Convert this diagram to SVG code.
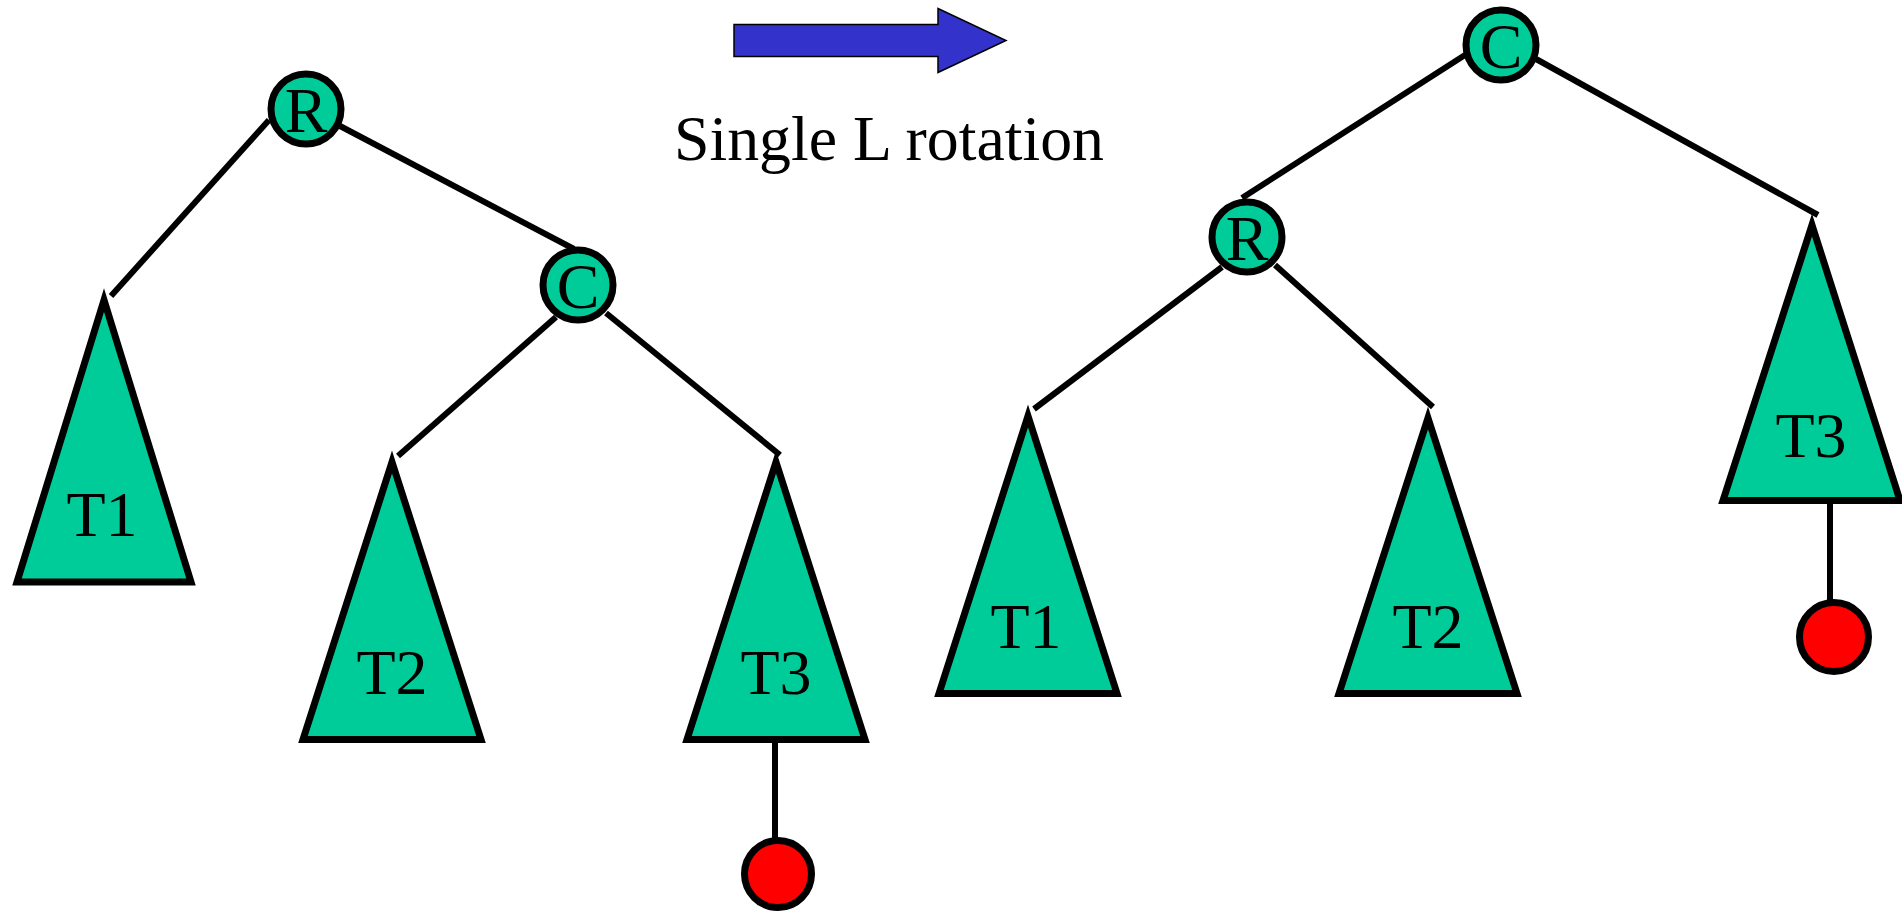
<svg xmlns="http://www.w3.org/2000/svg" width="1902" height="917" viewBox="0 0 1902 917">
<style>
.node{fill:#00CC99;stroke:#000;stroke-width:7}
.tree{fill:#00CC99;stroke:#000;stroke-width:7;stroke-linejoin:miter}
.new{fill:#FF0000;stroke:#000;stroke-width:7}
.edge{stroke:#000;stroke-width:6;fill:none}
.lbl{font-family:"Liberation Serif","Times New Roman",serif;font-size:64px;fill:#000;text-anchor:middle}
.cap{font-family:"Liberation Serif","Times New Roman",serif;font-size:64px;fill:#000}
</style>
<rect width="1902" height="917" fill="#fff"/>
<g id="connectors">
<line class="edge" x1="269" y1="120" x2="111" y2="296"/>
<line class="edge" x1="340" y1="126" x2="574" y2="249"/>
<line class="edge" x1="556" y1="317" x2="398" y2="456"/>
<line class="edge" x1="606" y1="313" x2="780" y2="455"/>
<line class="edge" x1="775" y1="743" x2="775" y2="840"/>
<line class="edge" x1="1465" y1="55" x2="1242" y2="198"/>
<line class="edge" x1="1536" y1="59" x2="1818" y2="215"/>
<line class="edge" x1="1222" y1="267" x2="1034" y2="409"/>
<line class="edge" x1="1275" y1="265" x2="1433" y2="407"/>
<line class="edge" x1="1830" y1="504" x2="1830" y2="600"/>
</g>
<g id="arrow">
<polygon points="734,24.5 938,24.5 938,8.5 1006,40.5 938,72.5 938,56.5 734,56.5" fill="#3333CC" stroke="#000" stroke-width="1.5"/>
</g>
<g id="caption">
<text class="cap" x="674" y="160" textLength="430" lengthAdjust="spacingAndGlyphs">Single L rotation</text>
</g>
<g id="L-R"><circle class="node" cx="306" cy="109" r="35"/><text class="lbl" x="306" y="132">R</text></g>
<g id="L-C"><circle class="node" cx="578" cy="285" r="35"/><text class="lbl" x="578" y="308">C</text></g>
<g id="L-T1"><polygon class="tree" points="104,300 191,582 17,582"/><text class="lbl" x="102" y="536">T1</text></g>
<g id="L-T2"><polygon class="tree" points="392,462 481,739.5 303,739.5"/><text class="lbl" x="392" y="694">T2</text></g>
<g id="L-T3"><polygon class="tree" points="776,462 865,739.5 687,739.5"/><text class="lbl" x="776" y="694">T3</text></g>
<g id="L-new"><circle class="new" cx="778" cy="874" r="33.5"/></g>
<g id="R-C"><circle class="node" cx="1501" cy="45" r="35"/><text class="lbl" x="1501" y="68">C</text></g>
<g id="R-R"><circle class="node" cx="1247" cy="237" r="35"/><text class="lbl" x="1247" y="260">R</text></g>
<g id="R-T1"><polygon class="tree" points="1028,416 1117,693.5 939,693.5"/><text class="lbl" x="1026" y="648">T1</text></g>
<g id="R-T2"><polygon class="tree" points="1428,418 1517,693.5 1339,693.5"/><text class="lbl" x="1428" y="648">T2</text></g>
<g id="R-T3"><polygon class="tree" points="1812,225 1900,500.5 1723,500.5"/><text class="lbl" x="1811" y="457">T3</text></g>
<g id="R-new"><circle class="new" cx="1834" cy="637" r="34.5"/></g>
</svg>
